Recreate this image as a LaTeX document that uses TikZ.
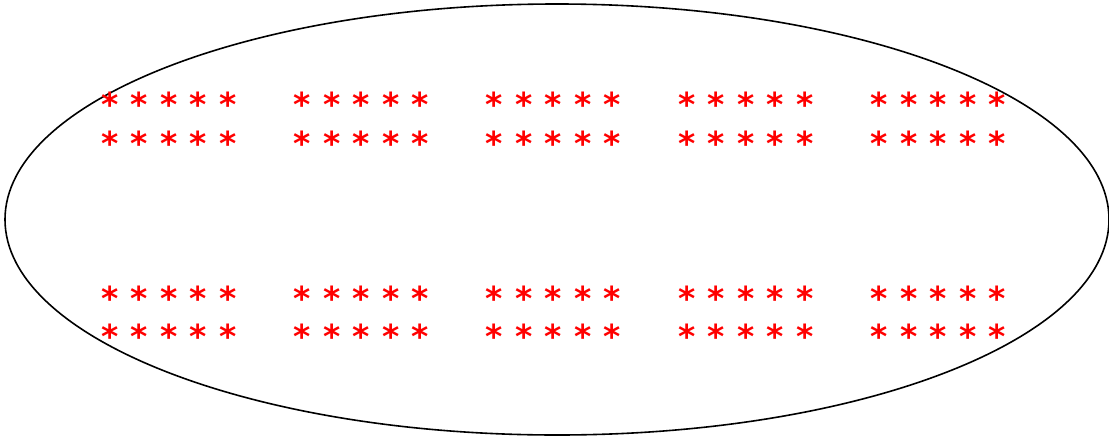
\documentclass[tikz,border=0pt]{standalone}
\usepackage{fontspec}
\setmainfont{DejaVu Sans}
\definecolor{starred}{RGB}{255, 0, 0}
\usetikzlibrary{shapes.geometric, positioning, calc}
\tikzset{
    star/.style={
        inner sep=0pt, outer sep=0pt, anchor=base,
        text=starred, font=\fontsize{33}{33}\selectfont\bfseries
    },
    outline/.style={draw=black, line width=1.6pt}
}
\begin{document}
\begin{tikzpicture}[x=1pt, y=-1pt]
    \useasboundingbox (0,0) rectangle (1109,437);

    % Outer ellipse
    \draw[outline] (557,219.5) ellipse [x radius=552, y radius=215.5];

    % Blocks of stars: 5 groups, 4 lines, 5 stars each
    \foreach \g in {0,...,4}{
        \foreach \r/\ry in {1/98, 2/137, 3/292, 4/330}{
            \foreach \s in {0,...,4}{
                \node[star] (s-\g-\r-\s) at ({110+192.3*\g+29.5*\s}, {\ry+18}) {*};
            }
        }
    }

\end{tikzpicture}
\end{document}
